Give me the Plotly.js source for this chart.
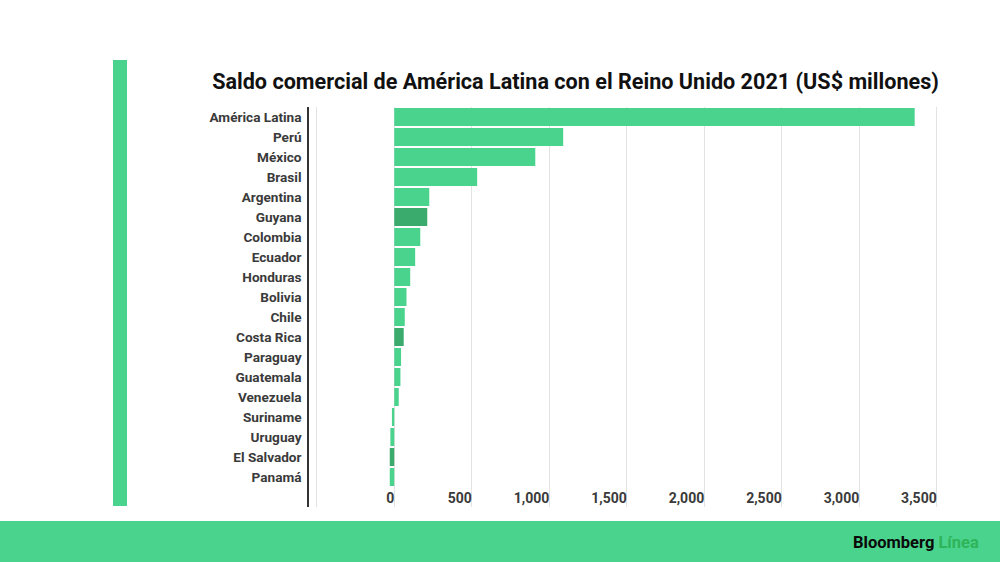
<!DOCTYPE html>
<html>
<head>
<meta charset="utf-8">
<script src="https://cdn.plot.ly/plotly-3.0.1.min.js"></script>
<style>html,body{margin:0;padding:0;background:#fff;}#chart{width:1000px;height:562px;}</style>
</head>
<body>
<div id="chart"></div>
<script>
const countries = ["América Latina","Perú","México","Brasil","Argentina","Guyana","Colombia","Ecuador","Honduras","Bolivia","Chile","Costa Rica","Paraguay","Guatemala","Venezuela","Suriname","Uruguay","El Salvador","Panamá"];
const values = [3358, 1090, 910, 535, 226, 213, 168, 135, 103, 79, 68, 61, 44, 40, 29, -15, -25, -29, -29];
const highlighted = ["Guyana","Costa Rica","El Salvador"];
const tickValues = [-500, 0, 500, 1000, 1500, 2000, 2500, 3000, 3500];
const tickLabels = ["", "0", "500", "1,000", "1,500", "2,000", "2,500", "3,000", "3,500"];

const light = "#4ad38c";
const dark = "#3aaa6d";
const colors = countries.map(c => highlighted.includes(c) ? dark : light);

const trace = {
  type: "bar",
  orientation: "h",
  x: values,
  y: countries,
  marker: {color: colors, line: {width: 0}},
  hoverinfo: "x+y"
};

const layout = {
  width: 1000,
  height: 562,
  margin: {l: 0, r: 0, t: 0, b: 0},
  paper_bgcolor: "#ffffff",
  plot_bgcolor: "#ffffff",
  showlegend: false,
  bargap: 0.1,
  font: {family: "Roboto, 'Liberation Sans', sans-serif", color: "#3a3a3a"},
  title: {
    text: "<b>Saldo comercial de América Latina con el Reino Unido 2021 (US$ millones)</b>",
    font: {family: "Roboto, sans-serif", size: 21.6, color: "#111"},
    x: 0.5755, xref: "paper", xanchor: "center",
    y: 1 - 81/562, yref: "paper", yanchor: "middle"
  },
  xaxis: {
    domain: [0.309, 0.946],
    range: [-550, 3560],
    tickvals: tickValues,
    ticktext: tickLabels,
    ticklabelposition: "inside left",
    ticklabelstandoff: -5,
    ticks: "",
    showgrid: true,
    gridcolor: "#e3e3e3",
    gridwidth: 1,
    zeroline: false,
    showline: false,
    tickfont: {family: "Roboto, sans-serif", size: 14, color: "#3a3a3a", weight: "bold"}
  },
  yaxis: {
    domain: [1 - 507/562, 1 - 107/562],
    type: "category",
    range: [19.5, -0.5],
    tickvals: countries,
    ticks: "",
    ticklabelstandoff: 3,
    showline: true,
    linecolor: "#333",
    linewidth: 1.5,
    showgrid: false,
    zeroline: false,
    tickfont: {family: "Roboto, sans-serif", size: 13.6, color: "#3a3a3a", weight: "bold"}
  },
  shapes: [
    {type: "rect", xref: "paper", yref: "paper", x0: 113/1000, x1: 127/1000, y0: 1 - 506/562, y1: 1 - 60/562, fillcolor: "#4ad38c", line: {width: 0}, layer: "below"},
    {type: "rect", xref: "paper", yref: "paper", x0: 0, x1: 1, y0: 0, y1: 1 - 521/562, fillcolor: "#4ad38c", line: {width: 0}, layer: "below"}
  ],
  annotations: [
    {
      xref: "paper", yref: "paper",
      x: 981/1000, y: 1 - 542/562, xanchor: "right", yanchor: "middle",
      showarrow: false,
      text: "<b>Bloomberg</b> <b><span style='color:#2fb45a'>Línea</span></b>",
      font: {family: "Roboto, sans-serif", size: 16.5, color: "#0a0a0a"}
    }
  ]
};

Plotly.newPlot("chart", [trace], layout, {displayModeBar: false, responsive: false});
</script>
</body>
</html>
